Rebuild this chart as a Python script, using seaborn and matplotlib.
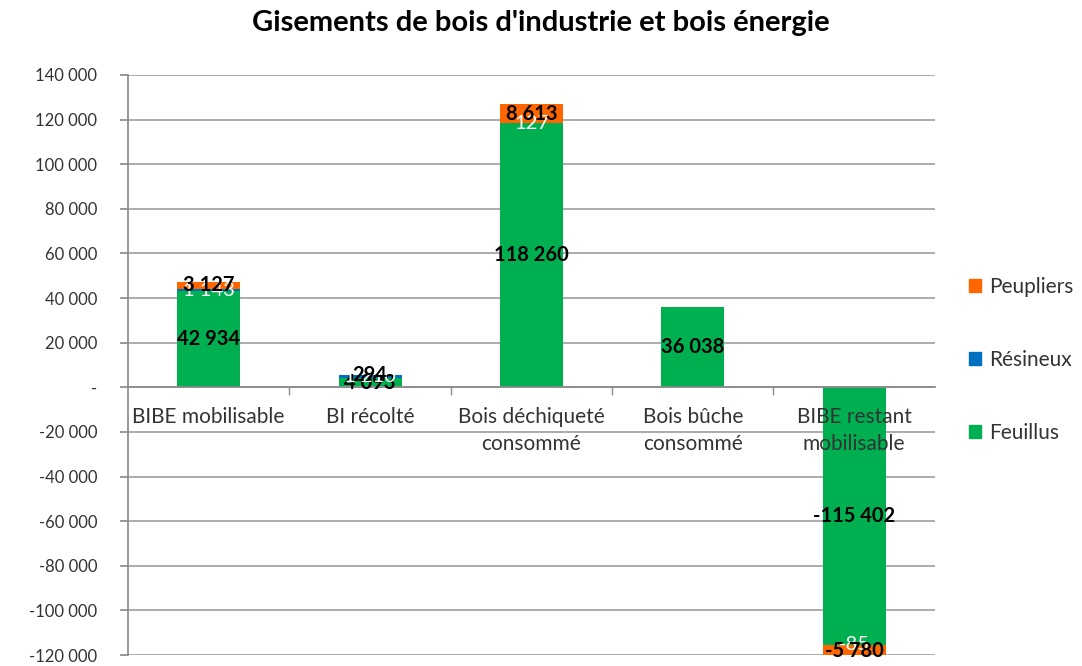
import numpy as np
import seaborn as sns
import matplotlib.pyplot as plt
from matplotlib.patches import Patch
from matplotlib.ticker import FuncFormatter, FixedLocator

# Data
categories = ["BIBE mobilisable", "BI récolté", "Bois déchiqueté\nconsommé",
              "Bois bûche\nconsommé", "BIBE restant\nmobilisable"]
feuillus = [42934, 4093, 118260, 36038, -115402]
resineux = [1143, 1210, 127, 0, -85]
peupliers = [3127, 294, 8613, 0, -5780]

series_names = ["Feuillus", "Résineux", "Peupliers"]
series_colors = ["#00B050", "#0070C0", "#FF6600"]
label_colors = ["black", "white", "black"]
label_weights = ["bold", "normal", "bold"]


def fmt_num(v):
    if v == 0:
        return "-"
    return f"{v:,.0f}".replace(",", " ")


def main():
    sns.set_theme(style="white")
    plt.rcParams["font.family"] = ["Lato", "DejaVu Sans"]

    fig = plt.figure(figsize=(10.82, 6.66), dpi=100)
    ax = fig.add_axes([0.1183, 0.0165, 0.7457, 0.871])

    pos_base = np.zeros(len(categories))
    neg_base = np.zeros(len(categories))
    all_series = [feuillus, resineux, peupliers]
    for name, vals, col, lc, lw in zip(series_names, all_series, series_colors,
                                       label_colors, label_weights):
        vals = np.array(vals, dtype=float)
        bottoms = np.where(vals >= 0, pos_base, neg_base)
        sns.barplot(x=categories, y=vals, color=col, width=0.39, bottom=bottoms,
                    ax=ax, saturation=1, errorbar=None, zorder=3, linewidth=0)
        for i, v in enumerate(vals):
            if v == 0:
                continue
            ax.text(i, bottoms[i] + v / 2, fmt_num(v), ha="center", va="center",
                    color=lc, fontsize=14.5, fontweight=lw, zorder=5)
        pos_base = pos_base + np.where(vals >= 0, vals, 0)
        neg_base = neg_base + np.where(vals < 0, vals, 0)

    ax.set_ylim(-120000, 140000)
    ax.set_xlim(-0.5, len(categories) - 0.5)
    ax.set_yticks(np.arange(-120000, 140001, 20000))
    ax.yaxis.set_major_formatter(FuncFormatter(lambda v, p: fmt_num(v)))
    ax.grid(axis="y", color="#A6A6A6", linewidth=1.3, zorder=0)
    ax.set_axisbelow(True)

    for s in ["top", "right"]:
        ax.spines[s].set_visible(False)
    ax.spines["left"].set_color("#8C8C8C")
    ax.spines["bottom"].set_color("#8C8C8C")
    ax.spines["bottom"].set_position(("data", 0))
    ax.spines["bottom"].set_zorder(4)

    ax.tick_params(axis="y", direction="out", length=6, color="#8C8C8C",
                   labelsize=12, labelcolor="#333333", pad=16, left=True)
    ax.tick_params(axis="x", which="major", length=0, labelsize=15,
                   labelcolor="#333333", pad=14)
    ax.xaxis.set_minor_locator(FixedLocator(np.arange(0.5, len(categories) - 1, 1)))
    ax.tick_params(axis="x", which="minor", direction="out", length=6,
                   color="#8C8C8C", bottom=True)
    for t in ax.get_xticklabels():
        t.set_linespacing(1.45)
    # category labels are drawn over the bars
    ax.xaxis.set_zorder(6)
    ax.set_xlabel("")
    ax.set_ylabel("")

    fig.suptitle("Gisements de bois d'industrie et bois énergie", x=0.5, y=0.985,
                 fontsize=21, fontweight="bold", color="black")

    handles = [Patch(color=c, label=n) for n, c in zip(series_names, series_colors)]
    handles = handles[::-1]
    fig.legend(handles=handles, loc="center left", bbox_to_anchor=(0.878, 0.46),
               frameon=False, fontsize=15, labelspacing=2.55, handlelength=0.6,
               handleheight=0.6, handletextpad=0.4, labelcolor="#333333")

    fig.savefig("out.png", dpi=100)
    plt.close(fig)


if __name__ == "__main__":
    main()
